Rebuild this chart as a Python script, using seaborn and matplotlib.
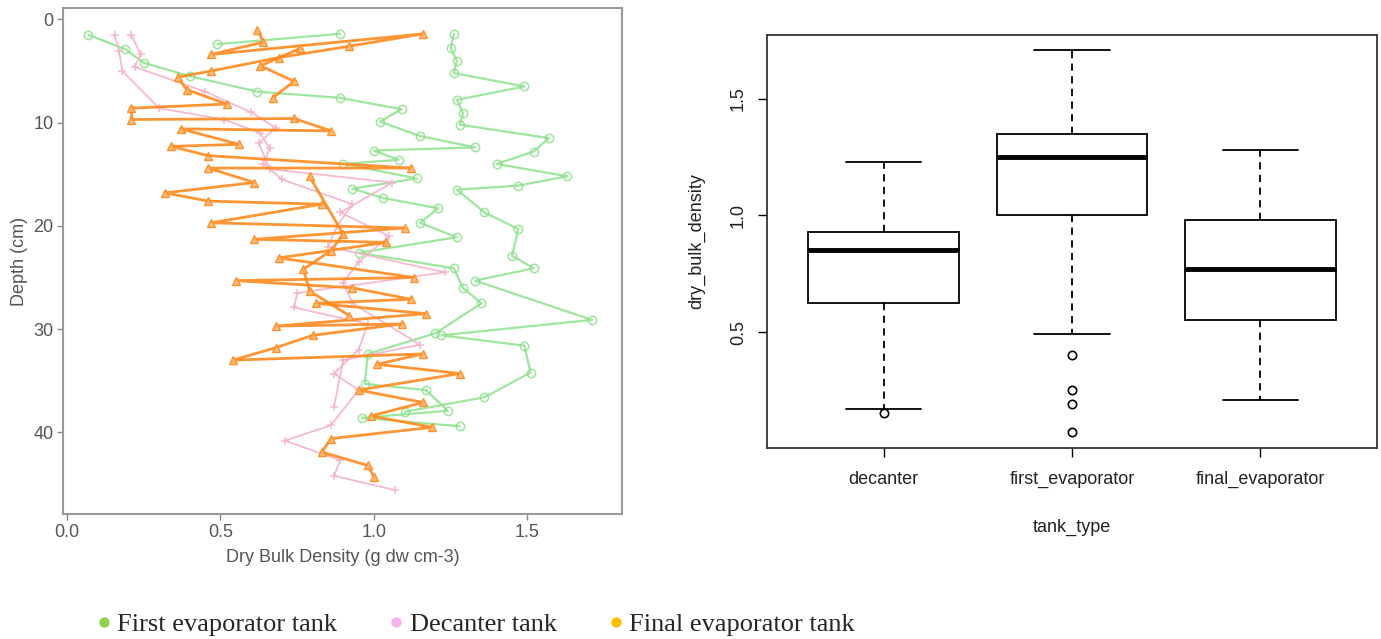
import numpy as np
import pandas as pd
import matplotlib
matplotlib.use("Agg")
import matplotlib.pyplot as plt
import seaborn as sns
from matplotlib.lines import Line2D

# ---------------- data ----------------
# First evaporator tank: three cores (depth in cm, dry bulk density g dw cm-3)
first_a_depth = [1.5, 2.9, 4.2, 5.5, 7.0, 7.6, 8.7, 9.9, 11.3, 12.4, 12.7, 13.6, 14.0, 15.4, 16.4,
                 17.3, 18.3, 19.7, 21.1, 22.6, 24.1, 26.0, 27.5, 30.4, 32.4, 35.3, 35.9, 37.9, 38.6,
                 39.4]
first_a_dbd = [0.07, 0.19, 0.25, 0.40, 0.62, 0.89, 1.09, 1.02, 1.15, 1.33, 1.00, 1.08, 0.90, 1.14, 0.93,
               1.03, 1.21, 1.15, 1.27, 0.95, 1.26, 1.29, 1.35, 1.20, 0.98, 0.97, 1.17, 1.24, 0.96,
               1.28]
first_b_depth = [1.4, 2.8, 4.0, 5.2, 6.5, 7.8, 9.1, 10.2, 11.5, 12.8, 14.0, 15.2, 16.1, 16.5,
                 18.7, 20.3, 22.9, 24.1, 25.3, 29.1, 30.6, 31.6, 34.2, 36.6, 38.0]
first_b_dbd = [1.26, 1.25, 1.27, 1.26, 1.49, 1.27, 1.29, 1.28, 1.57, 1.52, 1.40, 1.63, 1.47, 1.27,
               1.36, 1.47, 1.45, 1.52, 1.33, 1.71, 1.22, 1.49, 1.51, 1.36, 1.10]
first_c_depth = [1.4, 2.4]
first_c_dbd = [0.89, 0.49]

# Decanter tank: two cores
dec_a_depth = [1.5, 3.1, 5.0, 8.6, 9.7, 11.0, 12.5, 14.0, 15.5, 17.9, 20.0, 22.0, 24.5, 26.5,
               27.9, 29.5, 32.0, 34.3, 35.9, 39.3, 40.8, 42.7, 44.2, 45.6]
dec_a_dbd = [0.155, 0.17, 0.18, 0.30, 0.51, 0.63, 0.66, 0.64, 0.70, 0.93, 0.88, 0.85, 1.23, 0.75,
             0.74, 0.98, 0.95, 0.87, 0.95, 0.86, 0.71, 0.89, 0.87, 1.07]
dec_b_depth = [1.5, 3.4, 4.6, 7.0, 9.0, 10.5, 12.0, 14.5, 15.8, 18.7, 21.0, 23.5, 25.5, 27.5,
               31.5, 33.0, 37.5]
dec_b_dbd = [0.21, 0.24, 0.22, 0.45, 0.60, 0.68, 0.625, 0.66, 1.06, 0.89, 1.05, 0.95, 0.90, 0.93,
             1.15, 0.90, 0.87]

# Final evaporator tank: three cores
fin_a_depth = [1.0, 2.2, 3.4, 1.4, 2.6, 3.7, 5.0, 5.6, 6.8, 8.2, 8.6, 9.7, 9.6, 10.8, 10.6, 12.1,
               12.3, 13.2, 14.4, 14.4, 15.8, 16.8, 17.6, 17.9, 19.7, 20.2, 21.3, 21.6, 23.1, 25.0,
               25.3, 26.0, 27.1, 27.5, 28.5, 29.7, 29.5, 30.6, 31.8, 33.0, 32.4, 33.4, 34.3, 35.9,
               37.1, 38.4, 39.5, 40.6, 41.9, 43.2, 44.3]
fin_a_dbd = [0.62, 0.64, 0.47, 1.16, 0.92, 0.69, 0.47, 0.36, 0.39, 0.52, 0.21, 0.21, 0.74, 0.86,
             0.37, 0.56, 0.34, 0.46, 1.12, 0.46, 0.61, 0.32, 0.46, 0.83, 0.47, 1.10, 0.61, 1.04,
             0.69, 1.13, 0.55, 0.93, 1.12, 0.81, 1.17, 0.68, 1.09, 0.80, 0.68, 0.54, 1.16, 1.01,
             1.28, 0.95, 1.16, 0.99, 1.19, 0.86, 0.83, 0.98, 1.00]
fin_b_depth = [2.8, 4.5, 6.0, 7.6]
fin_b_dbd = [0.76, 0.63, 0.74, 0.67]
fin_c_depth = [15.2, 20.8, 22.4, 24.2, 26.3, 28.7]
fin_c_dbd = [0.79, 0.90, 0.86, 0.77, 0.79, 0.92]

tank_order = ["decanter", "first_evaporator", "final_evaporator"]
legend_labels = ["First evaporator tank", "Decanter tank", "Final evaporator tank"]
legend_colors = ["#92D050", "#F6B3EE", "#FFC000"]
y_ticks_left = [0, 10, 20, 30, 40]
x_ticks_left = [0.0, 0.5, 1.0, 1.5]
y_ticks_right = [0.5, 1.0, 1.5]


def cores(tank, parts):
    frames = []
    for i, (d, v) in enumerate(parts):
        frames.append(pd.DataFrame({"tank_type": tank, "core": f"{tank}_{i}",
                                    "depth": d, "dry_bulk_density": v}))
    return pd.concat(frames, ignore_index=True)


df_first = cores("first_evaporator", [(first_a_depth, first_a_dbd), (first_b_depth, first_b_dbd),
                                      (first_c_depth, first_c_dbd)])
df_dec = cores("decanter", [(dec_a_depth, dec_a_dbd), (dec_b_depth, dec_b_dbd)])
df_fin = cores("final_evaporator", [(fin_a_depth, fin_a_dbd), (fin_b_depth, fin_b_dbd),
                                    (fin_c_depth, fin_c_dbd)])
df_all = pd.concat([df_dec, df_first, df_fin], ignore_index=True)

# ---------------- figure ----------------
sns.set_style("white")
plt.rcParams["font.family"] = ["Liberation Sans", "DejaVu Sans"]

W, H = 1381, 639
fig = plt.figure(figsize=(W / 100, H / 100), dpi=100)
ax1 = fig.add_axes([63 / W, 1 - 514 / H, (622 - 63) / W, (514 - 8) / H])
ax2 = fig.add_axes([767 / W, 1 - 448 / H, 610 / W, 413 / H])

# ---- left: depth profiles ----
sns.lineplot(data=df_first, x="dry_bulk_density", y="depth", units="core", estimator=None,
             sort=False, color="#86E086", linewidth=1.6, alpha=0.8, marker="o", markersize=6,
             markerfacecolor="none", markeredgecolor="#86E086", markeredgewidth=1.1,
             legend=False, ax=ax1)
sns.lineplot(data=df_dec, x="dry_bulk_density", y="depth", units="core", estimator=None,
             sort=False, color="#F5B2CC", linewidth=1.3, alpha=0.9, marker="+", markersize=6,
             markeredgecolor="#F5B2CC", markeredgewidth=1.1, legend=False, ax=ax1)
sns.lineplot(data=df_fin, x="dry_bulk_density", y="depth", units="core", estimator=None,
             sort=False, color="#FF8A1E", linewidth=2.0, alpha=0.9, marker="^", markersize=6,
             markerfacecolor="#FFB870", markeredgecolor="#FF8A1E", markeredgewidth=1.0,
             legend=False, ax=ax1)

ax1.set_xlim(-0.013, 1.808)
ax1.set_ylim(47.9, -1.1)
ax1.set_xticks(x_ticks_left)
ax1.set_xticklabels([f"{v:.1f}" for v in x_ticks_left])
ax1.set_yticks(y_ticks_left)
ax1.set_yticklabels([str(v) for v in y_ticks_left])
ax1.tick_params(bottom=True, left=True, direction="out", length=4, width=1,
                color="#888888", labelcolor="#555555", labelsize=13, pad=3)
ax1.set_xlabel("Dry Bulk Density (g dw cm-3)", fontsize=13, color="#555555", labelpad=6)
ax1.set_ylabel("Depth (cm)", fontsize=13, color="#555555", labelpad=4)
for s in ax1.spines.values():
    s.set_color("#9a9a9a")
    s.set_linewidth(1.5)

# ---- right: boxplot ----
sns.boxplot(data=df_all, x="tank_type", y="dry_bulk_density", order=tank_order,
            color="white", linecolor="black", linewidth=1.3, width=0.8, saturation=1,
            whiskerprops=dict(linestyle=(0, (4, 3))),
            medianprops=dict(linewidth=3.5),
            flierprops=dict(marker="o", markerfacecolor="none", markersize=6,
                            markeredgewidth=1.2),
            ax=ax2)
ax2.set_xlim(-0.62, 2.62)
ax2.set_ylim(0.003, 1.774)
ax2.set_yticks(y_ticks_right)
ax2.set_yticklabels([f"{v:.1f}" for v in y_ticks_right], rotation=90, va="center")
ax2.tick_params(bottom=True, left=True, direction="out", length=6.5, width=1,
                color="black", labelcolor="#222222", labelsize=13)
ax2.tick_params(axis="x", pad=10)
ax2.tick_params(axis="y", pad=8)
ax2.set_xlabel("tank_type", fontsize=13, color="#222222", labelpad=22)
ax2.set_ylabel("dry_bulk_density", fontsize=13, color="#222222", labelpad=18)
for s in ax2.spines.values():
    s.set_color("#333333")
    s.set_linewidth(1.3)

# ---- legend at the bottom ----
handles = [Line2D([], [], marker="o", linestyle="none", markersize=7.5, markeredgewidth=0,
                  color=c) for c in legend_colors]
fig.legend(handles, legend_labels, loc="lower left", bbox_to_anchor=(0.0695, 0.005), ncol=3,
           frameon=False, prop={"family": ["Liberation Serif", "DejaVu Serif"], "size": 19},
           handlelength=0.6, handletextpad=0.2, columnspacing=1.95, borderpad=0,
           borderaxespad=0)

fig.savefig("out.png", dpi=100, facecolor="white")
